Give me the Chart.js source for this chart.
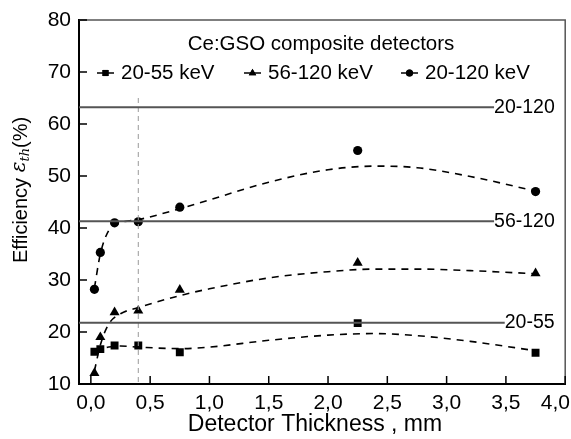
<!DOCTYPE html>
<html lang="en">
<head>
    <meta charset="UTF-8">
    <title>Ce:GSO composite detectors</title>
    <script src="https://cdn.jsdelivr.net/npm/chart.js"></script>
    <style>
        body { margin: 0; background: #fff; }
        #wrap { width: 571px; height: 439px; position: relative; }
    </style>
</head>
<body>
    <div id="wrap"><canvas id="effChart"></canvas></div>

    <script>
        // measured points
        const thickness = [0.03, 0.08, 0.2, 0.4, 0.75, 2.25, 3.75];
        const eff20_55 = [16.2, 16.7, 17.4, 17.4, 16.1, 21.7, 16.0];
        const eff56_120 = [12.1, 19.0, 23.8, 24.1, 28.1, 33.3, 31.3];
        const eff20_120 = [28.2, 35.3, 41.0, 41.2, 44.0, 54.9, 47.0];

        // dashed fit curves
        const fitX = [0.03, 0.08, 0.15, 0.25, 0.4, 0.75, 1.0, 1.5, 2.0, 2.4, 2.75, 3.2, 3.75];
        const fit20_55 = [16.3, 16.8, 17.1, 17.3, 17.1, 16.8, 17.1, 18.4, 19.4, 19.7, 19.3, 18.2, 16.4];
        const fit56_120 = [12.5, 17.5, 21.5, 23.5, 24.7, 27.0, 28.3, 30.4, 31.6, 32.1, 32.1, 31.8, 31.2];
        const fit20_120 = [28.5, 35.0, 39.5, 41.0, 41.6, 43.7, 45.4, 48.8, 51.2, 51.9, 51.6, 49.9, 47.1];

        // horizontal reference levels
        const refLabels = ['20-120', '56-120', '20-55'];
        const refLevels = [63.2, 41.3, 21.8];
        const refEnds = [3.40, 3.40, 3.49];

        const markerLine = [0.4, 65];
        const legendLabels = ['20-55 keV', '56-120 keV', '20-120 keV'];
        const legendStyles = ['rect', 'triangle', 'circle'];
        const xTicks = [0, 0.5, 1, 1.5, 2, 2.5, 3, 3.5, 4];
        const xTickLabels = ['0,0', '0,5', '1,0', '1,5', '2,0', '2,5', '3,0', '3,5', '4,0'];
        const yTicks = [10, 20, 30, 40, 50, 60, 70, 80];

        Chart.defaults.font.family = "'Liberation Sans', Arial, sans-serif";
        Chart.defaults.color = '#000';

        const pts = (xs, ys) => xs.map((x, i) => ({ x: x, y: ys[i] }));

        const datasets = [];
        refLevels.forEach((lv, i) => {
            datasets.push({
                data: [{ x: -0.1, y: lv }, { x: refEnds[i], y: lv }],
                borderColor: '#555', borderWidth: 2, pointRadius: 0
            });
        });
        datasets.push({
            data: [{ x: markerLine[0], y: markerLine[1] }, { x: markerLine[0], y: 10 }],
            borderColor: '#999', borderWidth: 1, borderDash: [5, 4], pointRadius: 0
        });
        [fit20_55, fit56_120, fit20_120].forEach(f => {
            datasets.push({
                data: pts(fitX, f),
                borderColor: '#000', borderWidth: 1.6, borderDash: [7, 6],
                pointRadius: 0, cubicInterpolationMode: 'monotone'
            });
        });
        [[eff20_55, 'rect', 5.6], [eff56_120, 'triangle', 5.8], [eff20_120, 'circle', 4.6]].forEach(s => {
            datasets.push({
                data: pts(thickness, s[0]),
                showLine: false, pointStyle: s[1], pointRadius: s[2],
                backgroundColor: '#000', borderColor: '#000', borderWidth: 0
            });
        });

        const decor = {
            id: 'decor',
            afterDraw(chart) {
                const ctx = chart.ctx;
                const xs = chart.scales.x, ys = chart.scales.y;
                const a = chart.chartArea;
                ctx.save();
                // frame top/right
                ctx.strokeStyle = '#555';
                ctx.lineWidth = 1.5;
                ctx.beginPath();
                ctx.moveTo(a.left, a.top);
                ctx.lineTo(a.right, a.top);
                ctx.lineTo(a.right, a.bottom);
                ctx.stroke();
                // inward ticks
                ctx.strokeStyle = '#000';
                ctx.lineWidth = 1.5;
                ctx.beginPath();
                xTicks.forEach(v => {
                    const px = xs.getPixelForValue(v);
                    ctx.moveTo(px, a.bottom);
                    ctx.lineTo(px, a.bottom - 8);
                });
                yTicks.forEach(v => {
                    const py = ys.getPixelForValue(v);
                    ctx.moveTo(a.left, py);
                    ctx.lineTo(a.left + 8, py);
                });
                ctx.stroke();
                // x tick labels (last one pulled inside the canvas)
                ctx.fillStyle = '#000';
                ctx.font = "21px 'Liberation Sans', Arial";
                ctx.textBaseline = 'alphabetic';
                xTicks.forEach((v, i) => {
                    const px = xs.getPixelForValue(v);
                    if (i === xTicks.length - 1) {
                        ctx.textAlign = 'right';
                        ctx.fillText(xTickLabels[i], chart.width - 1, 409);
                    } else {
                        ctx.textAlign = 'center';
                        ctx.fillText(xTickLabels[i], px, 409);
                    }
                });
                // x axis title
                ctx.font = "23px 'Liberation Sans', Arial";
                ctx.textAlign = 'center';
                ctx.fillText('Detector Thickness , mm', 315, 431);
                // reference labels
                ctx.font = "19.5px 'Liberation Sans', Arial";
                ctx.textBaseline = 'middle';
                ctx.textAlign = 'left';
                refLevels.forEach((lv, i) => {
                    ctx.fillText(refLabels[i], xs.getPixelForValue(refEnds[i]), ys.getPixelForValue(lv));
                });
                // legend
                ctx.font = "20.5px 'Liberation Sans', Arial";
                ctx.textAlign = 'center';
                ctx.fillText('Ce:GSO composite detectors', 321, 44);
                const lx = [97, 244, 401];
                ctx.textAlign = 'left';
                legendLabels.forEach((t, i) => {
                    const y = 73;
                    ctx.strokeStyle = '#000';
                    ctx.lineWidth = 1.5;
                    ctx.beginPath();
                    ctx.moveTo(lx[i], y);
                    ctx.lineTo(lx[i] + 17, y);
                    ctx.stroke();
                    Chart.helpers.drawPoint(ctx, {
                        pointStyle: legendStyles[i], radius: legendStyles[i] === 'circle' ? 3.5 : 4.3,
                        rotation: 0, borderWidth: 0
                    }, lx[i] + 8.5, y);
                    ctx.fillStyle = '#000';
                    ctx.fill();
                    ctx.fillText(t, lx[i] + 24, y);
                });
                // y axis title with italic epsilon_th
                ctx.translate(21, 190);
                ctx.rotate(-Math.PI / 2);
                const f1 = "20px 'Liberation Sans', Arial";
                const f2 = "italic 20px 'DejaVu Serif', serif";
                const f3 = "italic 13px 'DejaVu Serif', serif";
                ctx.font = f1; const w1 = ctx.measureText('Efficiency ').width;
                ctx.font = f2; const w2 = ctx.measureText('\u03b5').width;
                ctx.font = f3; const w3 = ctx.measureText('th').width;
                ctx.font = f1; const w4 = ctx.measureText('(%)').width;
                let x0 = -(w1 + w2 + w3 + w4) / 2;
                ctx.textAlign = 'left';
                ctx.font = f1; ctx.fillText('Efficiency ', x0, 0); x0 += w1;
                ctx.font = f2; ctx.fillText('\u03b5', x0, -1); x0 += w2;
                ctx.font = f3; ctx.fillText('th', x0, 5); x0 += w3;
                ctx.font = f1; ctx.fillText('(%)', x0, 0);
                ctx.restore();
            }
        };

        new Chart(document.getElementById('effChart'), {
            type: 'line',
            data: { datasets: datasets },
            options: {
                responsive: true,
                maintainAspectRatio: false,
                animation: false,
                layout: { padding: { top: 20, right: 3, left: 0, bottom: 0 } },
                plugins: { legend: { display: false }, tooltip: { enabled: false } },
                scales: {
                    x: {
                        type: 'linear', min: -0.1, max: 4.0,
                        afterBuildTicks: s => { s.ticks = xTicks.map(v => ({ value: v })); },
                        afterFit: s => { s.height = 55; s.paddingLeft = 0; s.paddingRight = 0; },
                        grid: { display: false, drawTicks: false },
                        border: { color: '#000', width: 2 },
                        ticks: { display: false }
                    },
                    y: {
                        min: 10, max: 80,
                        afterBuildTicks: s => { s.ticks = yTicks.map(v => ({ value: v })); },
                        afterFit: s => { s.width = 79; s.paddingTop = 0; s.paddingBottom = 0; },
                        grid: { display: false, drawTicks: false },
                        border: { color: '#000', width: 2 },
                        ticks: { font: { size: 21 }, padding: 8 }
                    }
                }
            },
            plugins: [decor]
        });
    </script>
</body>
</html>
